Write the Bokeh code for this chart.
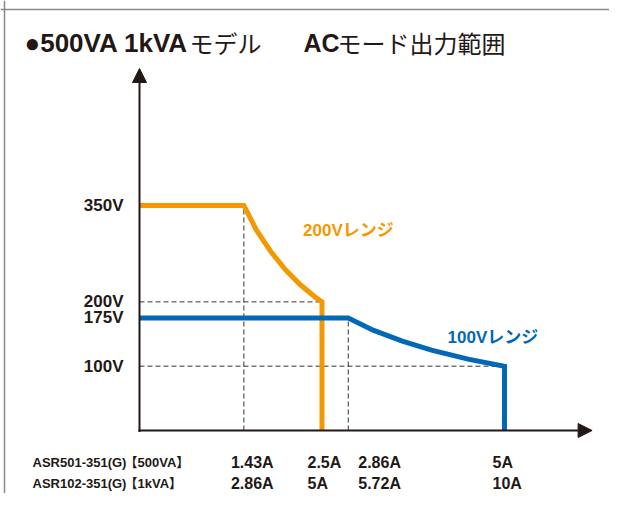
from bokeh.plotting import figure
from bokeh.models import Range1d, Arrow, NormalHead, Label, Span, ColumnDataSource
from bokeh.embed import file_html
from bokeh.resources import INLINE
from bokeh.core.properties import value

# ---------------- data ----------------
# 200V range output envelope (500VA model currents, volts)
range200_current = [0, 1.43, 1.6, 1.8, 2.0, 2.2, 2.4, 2.5, 2.5]
range200_voltage = [350, 350, 312, 278, 250, 227, 208, 200, 0]
# 100V range output envelope
range100_current = [0, 2.86, 3.2, 3.6, 4.0, 4.5, 5.0, 5.0]
range100_voltage = [175, 175, 156, 139, 125, 111, 100, 0]

voltage_ticks = [350, 200, 175, 100]
voltage_tick_labels = ["350V", "200V", "175V", "100V"]

current_ticks = [1.43, 2.5, 2.86, 5.0]
labels_500va = ["1.43A", "2.5A", "2.86A", "5A"]
labels_1kva = ["2.86A", "5A", "5.72A", "10A"]
model_names = ["ASR501-351(G)", "ASR102-351(G)"]
model_ratings = ["【500VA】", "【1kVA】"]

# guide points (knees of the envelopes)
vguide_current = [1.43, 2.86]
vguide_voltage = [350, 175]
hguide_current = [2.5, 5.0]
hguide_voltage = [200, 100]

range_names = ["200Vレンジ", "100Vレンジ"]
range_label_current = [2.24, 4.22]
range_label_voltage = [311, 144]

x_axis_end = 6.2   # A
y_axis_end = 563   # V

# ---------------- layout ----------------
W, H = 609, 493
OX, OY = 139, 430          # canvas position of the origin
PX_A, PX_V = 73.0, 0.643   # pixels per ampere / per volt

ORANGE = "#F39800"
BLUE = "#0068B7"
INK = "#231815"
LATIN_S = "Liberation Sans"
MIXED_S = "Liberation Sans, Noto Sans CJK JP"
CJK_S = "Noto Sans CJK JP"
LATIN = value(LATIN_S)
MIXED = value(MIXED_S)

x0, x1 = -OX / PX_A, (W - OX) / PX_A
y0, y1 = -(H - OY) / PX_V, OY / PX_V

p = figure(width=W, height=H, output_backend="svg", toolbar_location=None,
           x_axis_type=None, y_axis_type=None,
           x_range=Range1d(x0, x1), y_range=Range1d(y0, y1),
           min_border=0, min_border_left=0, min_border_right=0,
           min_border_top=0, min_border_bottom=0)
p.outline_line_color = None
p.background_fill_color = "white"
p.border_fill_color = "white"

# outer frame (top / left edges)
p.add_layout(Span(location=x0 + 4 / PX_A, dimension="height",
                  line_color="#8a8a8a", line_width=1.5))
p.add_layout(Span(location=y1 - 9 / PX_V, dimension="width",
                  line_color="#8a8a8a", line_width=1.5))

# dashed guides
p.segment(x0=vguide_current, y0=[0] * len(vguide_current),
          x1=vguide_current, y1=vguide_voltage,
          line_color="#333333", line_width=1, line_dash="5 3")
p.segment(x0=[0] * len(hguide_current), y0=hguide_voltage,
          x1=hguide_current, y1=hguide_voltage,
          line_color="#333333", line_width=1, line_dash="5 3")

# envelopes
p.line(range200_current, range200_voltage, line_color=ORANGE, line_width=5,
       line_join="miter")
p.line(range100_current, range100_voltage, line_color=BLUE, line_width=5,
       line_join="miter")

# axes with arrowheads
p.add_layout(Arrow(x_start=0, y_start=-1.5 / PX_V, x_end=0, y_end=y_axis_end,
                   line_color=INK, line_width=2,
                   end=NormalHead(size=14, fill_color=INK, line_color=INK, line_width=1)))
p.add_layout(Arrow(x_start=-1 / PX_A, y_start=0, x_end=x_axis_end, y_end=0,
                   line_color=INK, line_width=2,
                   end=NormalHead(size=14, fill_color=INK, line_color=INK, line_width=1)))

# voltage tick labels
p.text(x=[0] * len(voltage_ticks), y=voltage_ticks, text=voltage_tick_labels,
       x_offset=-16, text_align="right", text_baseline="middle",
       text_font=LATIN, text_font_style="bold", text_font_size="17px",
       text_color=INK)

# current labels (two rows: 500VA / 1kVA models)
col_nudge = [-13, -14.5, 10, -12]
rows = ColumnDataSource(dict(
    x=current_ticks + current_ticks,
    y=[0] * (2 * len(current_ticks)),
    text=labels_500va + labels_1kva,
    dx=col_nudge + col_nudge,
    dy=[32] * len(current_ticks) + [52.5] * len(current_ticks),
))
p.text(x="x", y="y", text="text", x_offset="dx", y_offset="dy", source=rows,
       text_align="left", text_baseline="middle",
       text_font=LATIN, text_font_style="bold", text_font_size="16px",
       text_color=INK)

models = ColumnDataSource(dict(
    x=[0, 0], y=[0, 0], name=model_names, rating=model_ratings, dy=[32, 52.5],
))
p.text(x="x", y="y", text="name", x_offset=-107, y_offset="dy", source=models,
       text_align="left", text_baseline="middle",
       text_font=LATIN, text_font_style="bold", text_font_size="13px",
       text_color=INK)
p.text(x="x", y="y", text="rating", x_offset=-15, y_offset="dy", source=models,
       text_align="left", text_baseline="middle",
       text_font=MIXED, text_font_style="bold", text_font_size="13px",
       text_color=INK)

# range names
p.text(x=range_label_current, y=range_label_voltage, text=range_names,
       text_color=[ORANGE, BLUE], text_align="left", text_baseline="middle",
       text_font=MIXED, text_font_style="bold", text_font_size="17px")

# title (mixed weights)
TY = H - 42
for txt, x, font, style, size in [
    ("●500VA 1kVA", 24, LATIN_S, "bold", "26px"),
    ("モデル", 189, CJK_S, "normal", "24px"),
    ("AC", 303, LATIN_S, "bold", "25px"),
    ("モード出力範囲", 337, CJK_S, "normal", "24px"),
]:
    p.add_layout(Label(x=x, y=TY, x_units="screen", y_units="screen", text=txt,
                       text_font=font, text_font_style=style, text_font_size=size,
                       text_color=INK, text_baseline="alphabetic", text_align="left"))

open("out.html", "w").write(file_html(p, INLINE))
